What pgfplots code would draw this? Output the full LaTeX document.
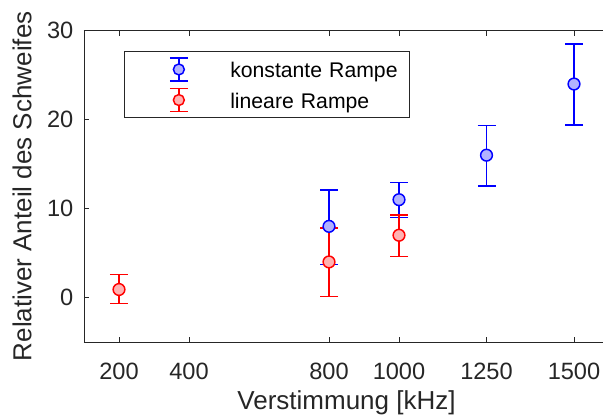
\documentclass[border=0pt]{standalone}
\usepackage{fontspec}
\setmainfont{Liberation Sans}
\usepackage{pgfplots}
\usepackage{pgfplotstable}
\pgfplotsset{compat=1.18}
\definecolor{axgray}{gray}{0.15}
\definecolor{mblue}{rgb}{0,0,1}
\definecolor{mbluef}{rgb}{0.7,0.7,1}
\definecolor{mred}{rgb}{1,0,0}
\definecolor{mredf}{rgb}{1,0.7,0.7}

\pgfplotstableread{
x y ep em
800 8 4.1 4.3
1000 11 1.9 2.0
1250 16 3.35 3.45
1500 24 4.5 4.6
}\konst
\pgfplotstableread{
x y ep em
200 0.9 1.7 1.6
800 4 3.8 3.9
1000 7 2.3 2.4
}\linear

\begin{document}
\begin{tikzpicture}
\begin{axis}[name=ax, scale only axis, width=393.75pt, height=233.5pt,
  xmin=100, xmax=1600, ymin=-5, ymax=30,
  xtick={200,400,800,1000,1250,1500},
  xticklabels={200,400,800,1000,1250,1500},
  ytick={0,10,20,30},
  axis y line*=left,
  xtick pos=both, ytick pos=left, tick align=inside, major tick length=4pt,
  axis line style={axgray, line width=0.6pt, -},
  tick style={axgray, line width=0.6pt},
  /pgf/number format/assume math mode=true,
  every tick label/.append style={font=\fontsize{17.7}{20}\selectfont, text=axgray},
  xticklabel style={anchor=base, yshift=-28pt},
  yticklabel style={anchor=east, inner xsep=0pt, xshift=-7.8pt},
  xlabel={Verstimmung [kHz]},
  ylabel={Relativer Anteil des Schweifes},
  every axis x label/.style={at={([yshift=-51pt]axis description cs:0.5,0)}, anchor=base, font=\fontsize{19.5}{22}\selectfont, text=axgray},
  every axis y label/.style={at={([xshift=-46.5pt]axis description cs:0,0.5)}, anchor=center, rotate=90, font=\fontsize{19.5}{22}\selectfont, text=axgray},
  legend style={at={(0.0768,0.9358)}, anchor=north west, draw=axgray, line width=0.6pt,
    inner xsep=0pt, inner ysep=3.75pt, row sep=3.85pt,
    font=\fontsize{15.9}{18}\selectfont,
    nodes={inner sep=0pt, text width=134.5pt, anchor=base west},
    /tikz/every even column/.append style={column sep=0pt}},
]
\addplot[legend image code/.code={
    \path (-40.3pt,0) (38.25pt,15.75pt);
    \draw[mblue, line width=1.1pt] (0,-2.5pt) -- (0,14.5pt) (-6.75pt,-2.5pt) -- (6.75pt,-2.5pt) (-6.75pt,14.5pt) -- (6.75pt,14.5pt);
    \draw[mblue, fill=mbluef, line width=1.1pt] (0,6pt) circle (4.1pt);
  },
  only marks, mark=*, mark size=4.4pt, mblue, mark options={fill=mbluef, draw=mblue, line width=1.1pt},
  error bars/.cd, y dir=both, y explicit,
  error bar style={line width=1.1pt, mblue},
  error mark options={rotate=90, mark size=6.75pt, line width=1.1pt, mblue}]
  table[x=x, y=y, y error plus=ep, y error minus=em]{\konst};
\addlegendentry{konstante Rampe}
\addplot[legend image code/.code={
    \path (-40.3pt,0) (38.25pt,15.75pt);
    \draw[mred, line width=1.1pt] (0,-2.5pt) -- (0,14.5pt) (-6.75pt,-2.5pt) -- (6.75pt,-2.5pt) (-6.75pt,14.5pt) -- (6.75pt,14.5pt);
    \draw[mred, fill=mredf, line width=1.1pt] (0,6pt) circle (4.1pt);
  },
  only marks, mark=*, mark size=4.4pt, mred, mark options={fill=mredf, draw=mred, line width=1.1pt},
  error bars/.cd, y dir=both, y explicit,
  error bar style={line width=1.1pt, mred},
  error mark options={rotate=90, mark size=6.75pt, line width=1.1pt, mred}]
  table[x=x, y=y, y error plus=ep, y error minus=em]{\linear};
\addlegendentry{lineare Rampe}
\end{axis}
\pgfresetboundingbox
\path ([xshift=-63pt,yshift=-57pt]ax.south west) rectangle ([xshift=-4.5pt,yshift=23pt]ax.north east);
\end{tikzpicture}
\end{document}
